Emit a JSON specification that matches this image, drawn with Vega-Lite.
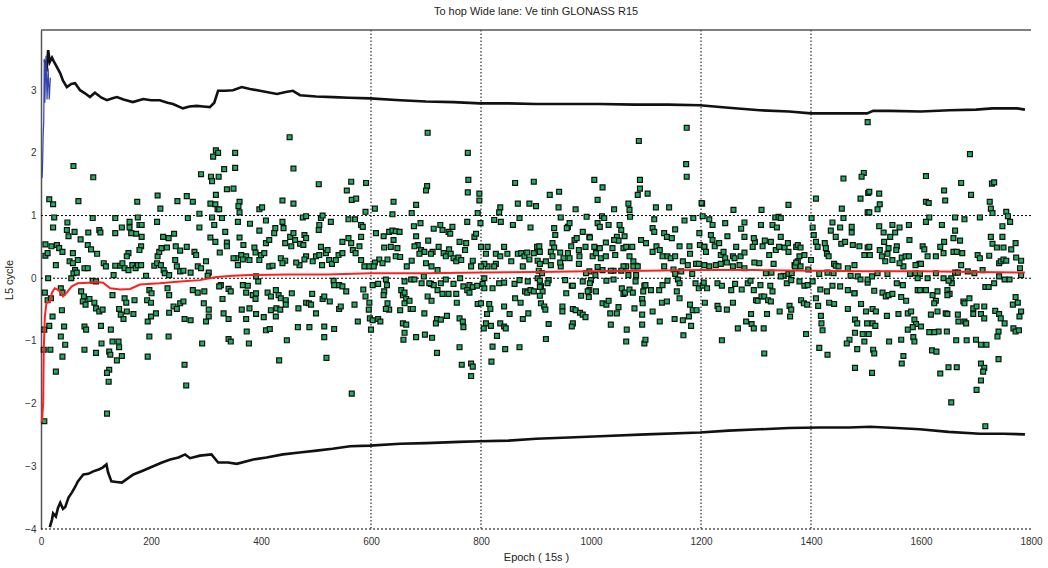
{
"$schema": "https://vega.github.io/schema/vega-lite/v6.json",
"width": 990, "height": 499,
"autosize": {"type": "none"},
"padding": {"left": 41, "top": 30, "right": 17, "bottom": 39},
"background": "white",
"config": {"view": {"stroke": null}, "font": "Liberation Sans"},
"title": {"text": "To hop Wide lane: Ve tinh GLONASS R15", "fontSize": 11, "fontWeight": "normal", "color": "#222", "offset": 12, "font": "Liberation Sans"},
"datasets": {
"gx": [{"e":600},{"e":800},{"e":1200},{"e":1400}],
"gy": [{"v":1},{"v":0},{"v":-4}],
"gt": [{"v":3.96}],
"blue": [{"e":2,"v":1.6},{"e":3,"v":1.85},{"e":4,"v":2.3},{"e":5,"v":2.5},{"e":6,"v":3.5},{"e":7,"v":2.8},{"e":9,"v":3.55},{"e":11,"v":2.85},{"e":13,"v":3.35},{"e":15,"v":2.85},{"e":17,"v":3.2}],
"mean": [{"e":1,"v":-2.3},{"e":2,"v":-2.25},{"e":4,"v":-1.98},{"e":5,"v":-1.14},{"e":7,"v":-0.61},{"e":10,"v":-0.39},{"e":16,"v":-0.37},{"e":20,"v":-0.23},{"e":25,"v":-0.16},{"e":30,"v":-0.18},{"e":35,"v":-0.21},{"e":40,"v":-0.29},{"e":47,"v":-0.23},{"e":56,"v":-0.13},{"e":67,"v":-0.08},{"e":86,"v":-0.07},{"e":101,"v":-0.06},{"e":113,"v":-0.07},{"e":126,"v":-0.16},{"e":144,"v":-0.18},{"e":162,"v":-0.17},{"e":180,"v":-0.1},{"e":216,"v":-0.08},{"e":253,"v":-0.05},{"e":289,"v":-0.03},{"e":319,"v":0.02},{"e":349,"v":0.04},{"e":380,"v":0.05},{"e":450,"v":0.06},{"e":520,"v":0.06},{"e":600,"v":0.08},{"e":700,"v":0.08},{"e":800,"v":0.09},{"e":900,"v":0.1},{"e":1000,"v":0.11},{"e":1100,"v":0.12},{"e":1200,"v":0.13},{"e":1300,"v":0.13},{"e":1400,"v":0.12},{"e":1500,"v":0.11},{"e":1600,"v":0.11},{"e":1700,"v":0.1},{"e":1789,"v":0.09}],
"up": [{"e":7,"v":3.48},{"e":10,"v":3.3},{"e":13,"v":3.64},{"e":16,"v":3.45},{"e":20,"v":3.52},{"e":25,"v":3.43},{"e":30,"v":3.35},{"e":35,"v":3.27},{"e":40,"v":3.15},{"e":47,"v":3.05},{"e":55,"v":3.1},{"e":62,"v":3.11},{"e":71,"v":3.0},{"e":80,"v":2.95},{"e":89,"v":2.89},{"e":98,"v":2.96},{"e":110,"v":2.88},{"e":120,"v":2.84},{"e":130,"v":2.87},{"e":138,"v":2.89},{"e":150,"v":2.85},{"e":167,"v":2.81},{"e":186,"v":2.86},{"e":200,"v":2.84},{"e":216,"v":2.84},{"e":230,"v":2.8},{"e":240,"v":2.78},{"e":258,"v":2.71},{"e":270,"v":2.74},{"e":283,"v":2.75},{"e":295,"v":2.74},{"e":307,"v":2.73},{"e":315,"v":2.8},{"e":322,"v":2.99},{"e":335,"v":2.99},{"e":349,"v":3.0},{"e":365,"v":3.05},{"e":380,"v":3.02},{"e":398,"v":2.99},{"e":429,"v":2.94},{"e":445,"v":2.97},{"e":458,"v":2.99},{"e":471,"v":2.92},{"e":500,"v":2.9},{"e":531,"v":2.89},{"e":560,"v":2.88},{"e":598,"v":2.87},{"e":653,"v":2.84},{"e":700,"v":2.82},{"e":750,"v":2.81},{"e":798,"v":2.79},{"e":850,"v":2.79},{"e":900,"v":2.78},{"e":960,"v":2.78},{"e":1016,"v":2.78},{"e":1080,"v":2.77},{"e":1140,"v":2.77},{"e":1198,"v":2.76},{"e":1250,"v":2.72},{"e":1307,"v":2.68},{"e":1360,"v":2.66},{"e":1400,"v":2.63},{"e":1435,"v":2.63},{"e":1470,"v":2.63},{"e":1502,"v":2.63},{"e":1513,"v":2.67},{"e":1543,"v":2.67},{"e":1600,"v":2.66},{"e":1652,"v":2.68},{"e":1700,"v":2.69},{"e":1730,"v":2.71},{"e":1775,"v":2.71},{"e":1789,"v":2.69}],
"lo": [{"e":16,"v":-3.97},{"e":20,"v":-3.85},{"e":22,"v":-3.75},{"e":27,"v":-3.8},{"e":31,"v":-3.66},{"e":35,"v":-3.58},{"e":40,"v":-3.68},{"e":44,"v":-3.65},{"e":50,"v":-3.5},{"e":56,"v":-3.42},{"e":62,"v":-3.33},{"e":67,"v":-3.24},{"e":77,"v":-3.13},{"e":86,"v":-3.12},{"e":95,"v":-3.08},{"e":105,"v":-3.05},{"e":112,"v":-3.02},{"e":119,"v":-2.97},{"e":122,"v":-3.1},{"e":128,"v":-3.24},{"e":137,"v":-3.25},{"e":147,"v":-3.26},{"e":168,"v":-3.13},{"e":185,"v":-3.07},{"e":204,"v":-3.0},{"e":220,"v":-2.94},{"e":235,"v":-2.89},{"e":250,"v":-2.86},{"e":262,"v":-2.81},{"e":271,"v":-2.87},{"e":289,"v":-2.83},{"e":310,"v":-2.81},{"e":322,"v":-2.94},{"e":340,"v":-2.94},{"e":356,"v":-2.96},{"e":386,"v":-2.89},{"e":410,"v":-2.86},{"e":440,"v":-2.81},{"e":470,"v":-2.78},{"e":501,"v":-2.75},{"e":530,"v":-2.72},{"e":562,"v":-2.68},{"e":598,"v":-2.67},{"e":653,"v":-2.64},{"e":700,"v":-2.63},{"e":760,"v":-2.61},{"e":798,"v":-2.6},{"e":850,"v":-2.59},{"e":900,"v":-2.56},{"e":960,"v":-2.54},{"e":1016,"v":-2.52},{"e":1100,"v":-2.49},{"e":1198,"v":-2.46},{"e":1250,"v":-2.43},{"e":1307,"v":-2.41},{"e":1360,"v":-2.39},{"e":1416,"v":-2.38},{"e":1470,"v":-2.38},{"e":1507,"v":-2.37},{"e":1555,"v":-2.39},{"e":1598,"v":-2.41},{"e":1650,"v":-2.45},{"e":1707,"v":-2.48},{"e":1750,"v":-2.48},{"e":1789,"v":-2.49}],
"pts": [
{"e":59,"v":1.79},{"e":95,"v":1.61},{"e":291,"v":1.66},{"e":15,"v":1.26},{"e":22,"v":1.18},{"e":68,"v":1.23},{"e":175,"v":1.22},{"e":212,"v":1.32},{"e":217,"v":1.11},{"e":248,"v":1.23},{"e":265,"v":1.31},{"e":276,"v":1.22},{"e":24,"v":0.97},{"e":48,"v":0.89},{"e":94,"v":0.96},{"e":135,"v":0.96},{"e":161,"v":0.9},{"e":176,"v":0.97},{"e":179,"v":0.85},{"e":183,"v":0.85},{"e":211,"v":0.9},{"e":267,"v":0.96},{"e":288,"v":1.03},{"e":22,"v":0.81},{"e":47,"v":0.77},{"e":61,"v":0.74},{"e":86,"v":0.73},{"e":106,"v":0.77},{"e":108,"v":0.73},{"e":147,"v":0.81},{"e":161,"v":0.81},{"e":164,"v":0.72},{"e":173,"v":0.71},{"e":135,"v":0.72},{"e":50,"v":0.67},{"e":72,"v":0.62},{"e":288,"v":0.81},{"e":183,"v":0.66},{"e":222,"v":0.66},{"e":232,"v":0.64},{"e":242,"v":0.71},{"e":8,"v":0.54},{"e":19,"v":0.51},{"e":29,"v":0.53},{"e":33,"v":0.48},{"e":39,"v":0.42},{"e":85,"v":0.53},{"e":91,"v":0.46},{"e":102,"v":0.39},{"e":8,"v":0.36},{"e":12,"v":0.4},{"e":58,"v":0.4},{"e":52,"v":0.27},{"e":159,"v":0.4},{"e":156,"v":0.35},{"e":182,"v":0.51},{"e":179,"v":0.45},{"e":212,"v":0.35},{"e":215,"v":0.42},{"e":219,"v":0.48},{"e":229,"v":0.49},{"e":245,"v":0.51},{"e":253,"v":0.44},{"e":265,"v":0.5},{"e":279,"v":0.42},{"e":282,"v":0.37},{"e":244,"v":0.29},{"e":27,"v":0.21},{"e":67,"v":0.29},{"e":58,"v":0.24},{"e":62,"v":0.13},{"e":59,"v":0.08},{"e":65,"v":0.09},{"e":79,"v":0.16},{"e":85,"v":0.16},{"e":114,"v":0.24},{"e":118,"v":0.19},{"e":135,"v":0.2},{"e":144,"v":0.2},{"e":148,"v":0.24},{"e":152,"v":0.16},{"e":159,"v":0.13},{"e":166,"v":0.21},{"e":172,"v":0.16},{"e":176,"v":0.21},{"e":182,"v":0.21},{"e":191,"v":0.04},{"e":206,"v":0.2},{"e":211,"v":0.24},{"e":218,"v":0.21},{"e":223,"v":0.13},{"e":225,"v":0.08},{"e":233,"v":0.05},{"e":247,"v":0.19},{"e":253,"v":0.11},{"e":259,"v":0.12},{"e":272,"v":0.09},{"e":285,"v":0.19},{"e":291,"v":0.16},{"e":132,"v":0.05},{"e":13,"v":0.0},{"e":55,"v":0.0},{"e":94,"v":-0.04},{"e":100,"v":-0.05},{"e":7,"v":-0.23},{"e":12,"v":-0.35},{"e":18,"v":-0.32},{"e":36,"v":-0.16},{"e":39,"v":-0.23},{"e":73,"v":-0.21},{"e":78,"v":-0.29},{"e":76,"v":-0.37},{"e":81,"v":-0.42},{"e":88,"v":-0.33},{"e":97,"v":-0.39},{"e":100,"v":-0.48},{"e":106,"v":-0.53},{"e":112,"v":-0.5},{"e":130,"v":-0.27},{"e":152,"v":-0.32},{"e":155,"v":-0.39},{"e":170,"v":-0.35},{"e":168,"v":-0.57},{"e":142,"v":-0.49},{"e":145,"v":-0.58},{"e":150,"v":-0.65},{"e":156,"v":-0.53},{"e":193,"v":-0.35},{"e":197,"v":-0.19},{"e":201,"v":-0.24},{"e":200,"v":-0.39},{"e":209,"v":-0.56},{"e":200,"v":-0.61},{"e":194,"v":-0.69},{"e":230,"v":-0.16},{"e":233,"v":-0.27},{"e":241,"v":-0.45},{"e":247,"v":-0.49},{"e":253,"v":-0.4},{"e":259,"v":-0.37},{"e":233,"v":-0.55},{"e":261,"v":-0.65},{"e":272,"v":-0.67},{"e":276,"v":-0.19},{"e":285,"v":-0.23},{"e":297,"v":-0.21},{"e":296,"v":-0.4},{"e":21,"v":-0.61},{"e":15,"v":-0.76},{"e":38,"v":-0.51},{"e":42,"v":-0.77},{"e":36,"v":-0.93},{"e":44,"v":-1.06},{"e":39,"v":-1.25},{"e":27,"v":-1.49},{"e":17,"v":-1.14},{"e":79,"v":-0.77},{"e":82,"v":-0.82},{"e":109,"v":-0.76},{"e":110,"v":-1.04},{"e":127,"v":-0.82},{"e":130,"v":-1.01},{"e":141,"v":-1.01},{"e":142,"v":-1.1},{"e":147,"v":-1.24},{"e":79,"v":-1.14},{"e":100,"v":-1.19},{"e":124,"v":-1.17},{"e":126,"v":-1.22},{"e":138,"v":-1.31},{"e":124,"v":-1.46},{"e":120,"v":-1.51},{"e":123,"v":-1.65},{"e":120,"v":-2.16},{"e":194,"v":-1.25},{"e":197,"v":-0.93},{"e":232,"v":-0.93},{"e":261,"v":-1.38},{"e":264,"v":-1.71},{"e":293,"v":-1.04},{"e":6,"v":-2.28},{"e":6,"v":-0.82},{"e":5,"v":-1.14},
{"e":452,"v":2.25},{"e":318,"v":2.04},{"e":313,"v":1.94},{"e":322,"v":2.0},{"e":353,"v":2.0},{"e":353,"v":1.76},{"e":333,"v":1.74},{"e":459,"v":1.75},{"e":309,"v":1.62},{"e":311,"v":1.55},{"e":323,"v":1.62},{"e":505,"v":1.5},{"e":564,"v":1.54},{"e":591,"v":1.52},{"e":338,"v":1.42},{"e":350,"v":1.43},{"e":318,"v":1.33},{"e":308,"v":1.19},{"e":317,"v":1.18},{"e":321,"v":1.1},{"e":324,"v":1.1},{"e":361,"v":1.22},{"e":359,"v":1.15},{"e":361,"v":1.05},{"e":397,"v":1.1},{"e":402,"v":1.13},{"e":439,"v":1.24},{"e":459,"v":1.19},{"e":556,"v":1.4},{"e":565,"v":1.25},{"e":573,"v":1.27},{"e":590,"v":1.06},{"e":311,"v":0.97},{"e":329,"v":0.96},{"e":358,"v":0.9},{"e":380,"v":0.87},{"e":409,"v":0.92},{"e":439,"v":0.9},{"e":476,"v":0.97},{"e":482,"v":0.99},{"e":509,"v":0.96},{"e":527,"v":0.9},{"e":512,"v":1.0},{"e":506,"v":0.85},{"e":505,"v":0.77},{"e":559,"v":0.94},{"e":571,"v":0.94},{"e":582,"v":0.85},{"e":585,"v":0.82},{"e":315,"v":0.85},{"e":335,"v":0.74},{"e":308,"v":0.65},{"e":317,"v":0.58},{"e":338,"v":0.57},{"e":325,"v":0.41},{"e":338,"v":0.51},{"e":361,"v":0.65},{"e":368,"v":0.53},{"e":364,"v":0.37},{"e":373,"v":0.35},{"e":397,"v":0.76},{"e":409,"v":0.56},{"e":415,"v":0.61},{"e":426,"v":0.8},{"e":424,"v":0.72},{"e":441,"v":0.8},{"e":444,"v":0.56},{"e":453,"v":0.66},{"e":455,"v":0.51},{"e":459,"v":0.72},{"e":462,"v":0.61},{"e":471,"v":0.55},{"e":477,"v":0.53},{"e":479,"v":0.69},{"e":482,"v":0.64},{"e":388,"v":0.49},{"e":390,"v":0.41},{"e":400,"v":0.37},{"e":406,"v":0.4},{"e":397,"v":0.29},{"e":379,"v":0.29},{"e":367,"v":0.3},{"e":355,"v":0.32},{"e":358,"v":0.21},{"e":350,"v":0.32},{"e":415,"v":0.19},{"e":421,"v":0.2},{"e":436,"v":0.32},{"e":444,"v":0.28},{"e":439,"v":0.24},{"e":470,"v":0.21},{"e":464,"v":0.25},{"e":482,"v":0.35},{"e":479,"v":0.3},{"e":494,"v":0.27},{"e":500,"v":0.35},{"e":506,"v":0.37},{"e":509,"v":0.5},{"e":511,"v":0.21},{"e":518,"v":0.4},{"e":521,"v":0.45},{"e":524,"v":0.29},{"e":529,"v":0.23},{"e":536,"v":0.29},{"e":541,"v":0.37},{"e":548,"v":0.58},{"e":548,"v":0.4},{"e":559,"v":0.64},{"e":564,"v":0.56},{"e":567,"v":0.45},{"e":572,"v":0.4},{"e":579,"v":0.51},{"e":582,"v":0.66},{"e":588,"v":0.19},{"e":597,"v":0.19},{"e":582,"v":0.29},{"e":305,"v":0.09},{"e":303,"v":0.04},{"e":300,"v":0.27},{"e":327,"v":-0.11},{"e":324,"v":-0.13},{"e":341,"v":-0.17},{"e":345,"v":-0.21},{"e":367,"v":-0.11},{"e":376,"v":-0.12},{"e":395,"v":-0.05},{"e":391,"v":0.03},{"e":330,"v":-0.33},{"e":332,"v":-0.56},{"e":341,"v":-0.65},{"e":305,"v":-0.5},{"e":305,"v":-0.61},{"e":300,"v":-0.69},{"e":373,"v":-0.23},{"e":385,"v":-0.27},{"e":390,"v":-0.33},{"e":391,"v":-0.24},{"e":379,"v":-0.48},{"e":365,"v":-0.5},{"e":373,"v":-0.65},{"e":391,"v":-0.57},{"e":405,"v":-0.62},{"e":412,"v":-0.23},{"e":418,"v":-0.29},{"e":427,"v":-0.19},{"e":432,"v":-0.27},{"e":436,"v":-0.32},{"e":445,"v":-0.35},{"e":456,"v":-0.24},{"e":428,"v":-0.48},{"e":418,"v":-0.51},{"e":427,"v":-0.61},{"e":435,"v":-0.5},{"e":445,"v":-0.42},{"e":468,"v":-0.48},{"e":482,"v":-0.39},{"e":487,"v":-0.4},{"e":491,"v":-0.42},{"e":493,"v":-0.25},{"e":500,"v":-0.56},{"e":512,"v":-0.33},{"e":515,"v":-0.29},{"e":525,"v":-0.37},{"e":532,"v":-0.04},{"e":533,"v":-0.11},{"e":542,"v":-0.11},{"e":548,"v":-0.13},{"e":542,"v":-0.49},{"e":545,"v":-0.45},{"e":555,"v":-0.21},{"e":570,"v":-0.42},{"e":576,"v":-0.69},{"e":586,"v":-0.18},{"e":590,"v":-0.29},{"e":596,"v":-0.5},{"e":598,"v":-0.64},{"e":600,"v":-0.82},{"e":597,"v":-0.39},{"e":374,"v":-0.85},{"e":341,"v":-0.97},{"e":345,"v":-1.01},{"e":378,"v":-1.04},{"e":409,"v":-0.83},{"e":416,"v":-0.81},{"e":447,"v":-0.99},{"e":467,"v":-0.78},{"e":488,"v":-0.78},{"e":515,"v":-0.77},{"e":515,"v":-0.94},{"e":533,"v":-0.81},{"e":433,"v":-1.31},{"e":519,"v":-1.27},{"e":565,"v":-1.84},
{"e":703,"v":2.32},{"e":776,"v":2.0},{"e":777,"v":1.57},{"e":702,"v":1.47},{"e":700,"v":1.4},{"e":776,"v":1.37},{"e":862,"v":1.52},{"e":896,"v":1.54},{"e":641,"v":1.22},{"e":682,"v":1.17},{"e":607,"v":1.11},{"e":639,"v":1.02},{"e":674,"v":1.04},{"e":797,"v":1.35},{"e":797,"v":1.24},{"e":794,"v":1.04},{"e":799,"v":0.88},{"e":835,"v":1.13},{"e":833,"v":1.05},{"e":867,"v":1.19},{"e":888,"v":1.19},{"e":900,"v":1.15},{"e":870,"v":0.96},{"e":824,"v":0.93},{"e":836,"v":0.9},{"e":858,"v":0.85},{"e":890,"v":0.81},{"e":775,"v":0.9},{"e":690,"v":0.88},{"e":678,"v":0.83},{"e":714,"v":0.79},{"e":726,"v":0.85},{"e":730,"v":0.77},{"e":748,"v":0.82},{"e":741,"v":0.74},{"e":744,"v":0.71},{"e":609,"v":0.72},{"e":623,"v":0.67},{"e":633,"v":0.74},{"e":639,"v":0.76},{"e":645,"v":0.75},{"e":652,"v":0.74},{"e":641,"v":0.61},{"e":624,"v":0.49},{"e":636,"v":0.5},{"e":648,"v":0.48},{"e":645,"v":0.35},{"e":630,"v":0.3},{"e":653,"v":0.34},{"e":615,"v":0.3},{"e":621,"v":0.24},{"e":607,"v":0.25},{"e":605,"v":0.19},{"e":682,"v":0.67},{"e":685,"v":0.53},{"e":679,"v":0.51},{"e":691,"v":0.45},{"e":697,"v":0.42},{"e":688,"v":0.39},{"e":704,"v":0.6},{"e":712,"v":0.42},{"e":709,"v":0.39},{"e":723,"v":0.5},{"e":732,"v":0.4},{"e":736,"v":0.35},{"e":742,"v":0.46},{"e":745,"v":0.39},{"e":750,"v":0.32},{"e":755,"v":0.27},{"e":759,"v":0.33},{"e":764,"v":0.29},{"e":773,"v":0.56},{"e":771,"v":0.45},{"e":761,"v":0.58},{"e":788,"v":0.66},{"e":791,"v":0.71},{"e":674,"v":0.28},{"e":700,"v":0.24},{"e":710,"v":0.19},{"e":721,"v":0.13},{"e":665,"v":0.19},{"e":800,"v":0.5},{"e":809,"v":0.39},{"e":812,"v":0.5},{"e":827,"v":0.39},{"e":835,"v":0.35},{"e":842,"v":0.5},{"e":848,"v":0.39},{"e":855,"v":0.27},{"e":867,"v":0.39},{"e":873,"v":0.4},{"e":879,"v":0.35},{"e":884,"v":0.41},{"e":888,"v":0.3},{"e":896,"v":0.4},{"e":902,"v":0.5},{"e":903,"v":0.28},{"e":876,"v":0.19},{"e":827,"v":0.23},{"e":824,"v":0.19},{"e":812,"v":0.19},{"e":806,"v":0.23},{"e":800,"v":0.19},{"e":785,"v":0.28},{"e":782,"v":0.19},{"e":603,"v":-0.11},{"e":613,"v":-0.09},{"e":627,"v":-0.02},{"e":629,"v":-0.11},{"e":661,"v":-0.05},{"e":673,"v":-0.02},{"e":679,"v":-0.02},{"e":696,"v":0.03},{"e":709,"v":-0.09},{"e":714,"v":-0.11},{"e":727,"v":-0.08},{"e":736,"v":-0.02},{"e":750,"v":-0.09},{"e":762,"v":0.0},{"e":768,"v":-0.13},{"e":779,"v":-0.11},{"e":785,"v":-0.14},{"e":793,"v":-0.12},{"e":803,"v":-0.09},{"e":806,"v":0.0},{"e":821,"v":-0.16},{"e":833,"v":-0.08},{"e":842,"v":-0.07},{"e":861,"v":-0.09},{"e":870,"v":-0.03},{"e":885,"v":-0.05},{"e":903,"v":0.0},{"e":624,"v":-0.21},{"e":623,"v":-0.27},{"e":630,"v":-0.4},{"e":633,"v":-0.5},{"e":627,"v":-0.49},{"e":613,"v":-0.65},{"e":617,"v":-0.69},{"e":603,"v":-0.67},{"e":655,"v":-0.19},{"e":658,"v":-0.27},{"e":661,"v":-0.23},{"e":664,"v":-0.33},{"e":661,"v":-0.4},{"e":670,"v":-0.36},{"e":653,"v":-0.51},{"e":658,"v":-0.72},{"e":664,"v":-0.74},{"e":661,"v":-0.87},{"e":672,"v":-0.49},{"e":676,"v":-0.49},{"e":659,"v":-0.98},{"e":682,"v":-0.94},{"e":692,"v":-0.08},{"e":706,"v":-0.08},{"e":721,"v":-0.19},{"e":730,"v":-0.25},{"e":741,"v":-0.25},{"e":755,"v":-0.25},{"e":756,"v":-0.39},{"e":697,"v":-0.56},{"e":703,"v":-0.29},{"e":710,"v":-0.36},{"e":720,"v":-0.65},{"e":718,"v":-0.72},{"e":727,"v":-0.66},{"e":738,"v":-0.6},{"e":761,"v":-0.64},{"e":767,"v":-0.69},{"e":768,"v":-0.78},{"e":698,"v":-0.9},{"e":711,"v":-0.95},{"e":720,"v":-1.19},{"e":761,"v":-1.1},{"e":765,"v":-1.38},{"e":782,"v":-1.36},{"e":785,"v":-1.41},{"e":782,"v":-1.56},{"e":775,"v":-0.19},{"e":779,"v":-0.23},{"e":794,"v":-0.41},{"e":800,"v":-0.4},{"e":806,"v":-0.16},{"e":815,"v":-0.41},{"e":817,"v":-0.49},{"e":811,"v":-0.57},{"e":809,"v":-0.72},{"e":805,"v":-0.8},{"e":818,"v":-0.76},{"e":829,"v":-0.92},{"e":835,"v":-0.72},{"e":842,"v":-0.77},{"e":845,"v":-0.8},{"e":852,"v":-0.57},{"e":842,"v":-0.45},{"e":862,"v":-0.32},{"e":872,"v":-0.39},{"e":880,"v":-0.21},{"e":884,"v":-0.23},{"e":890,"v":-0.19},{"e":896,"v":-0.21},{"e":886,"v":-0.56},{"e":876,"v":-0.65},{"e":870,"v":-1.1},{"e":844,"v":-1.13},{"e":821,"v":-1.09},{"e":819,"v":-1.33},
{"e":1174,"v":2.4},{"e":1087,"v":2.19},{"e":1173,"v":1.82},{"e":1174,"v":1.62},{"e":1006,"v":1.57},{"e":1021,"v":1.45},{"e":1089,"v":1.57},{"e":1089,"v":1.43},{"e":1085,"v":1.33},{"e":1103,"v":1.35},{"e":925,"v":1.33},{"e":942,"v":1.38},{"e":1012,"v":1.25},{"e":1068,"v":1.19},{"e":1070,"v":1.09},{"e":1042,"v":1.1},{"e":972,"v":1.1},{"e":941,"v":1.13},{"e":1118,"v":1.13},{"e":1142,"v":1.13},{"e":945,"v":0.97},{"e":992,"v":0.98},{"e":1020,"v":0.99},{"e":1024,"v":0.96},{"e":1071,"v":0.98},{"e":1115,"v":0.94},{"e":1170,"v":0.92},{"e":1186,"v":0.96},{"e":1202,"v":1.19},{"e":1203,"v":0.99},{"e":933,"v":0.8},{"e":935,"v":0.69},{"e":958,"v":0.82},{"e":956,"v":0.8},{"e":961,"v":0.88},{"e":985,"v":0.74},{"e":997,"v":0.66},{"e":1012,"v":0.88},{"e":1016,"v":0.82},{"e":1032,"v":0.85},{"e":1052,"v":0.85},{"e":1055,"v":0.77},{"e":1061,"v":0.67},{"e":1047,"v":0.66},{"e":1050,"v":0.6},{"e":1042,"v":0.61},{"e":1112,"v":0.8},{"e":1115,"v":0.74},{"e":1133,"v":0.72},{"e":1138,"v":0.66},{"e":1147,"v":0.64},{"e":1153,"v":0.78},{"e":1197,"v":0.72},{"e":1198,"v":0.53},{"e":1179,"v":0.51},{"e":906,"v":0.51},{"e":907,"v":0.42},{"e":930,"v":0.56},{"e":933,"v":0.49},{"e":927,"v":0.42},{"e":930,"v":0.35},{"e":944,"v":0.41},{"e":950,"v":0.32},{"e":958,"v":0.4},{"e":961,"v":0.32},{"e":964,"v":0.51},{"e":970,"v":0.61},{"e":974,"v":0.64},{"e":978,"v":0.45},{"e":979,"v":0.35},{"e":990,"v":0.5},{"e":998,"v":0.65},{"e":1006,"v":0.5},{"e":1003,"v":0.35},{"e":1009,"v":0.4},{"e":1016,"v":0.48},{"e":1018,"v":0.32},{"e":1027,"v":0.57},{"e":1027,"v":0.35},{"e":1039,"v":0.48},{"e":1044,"v":0.37},{"e":1059,"v":0.48},{"e":1064,"v":0.5},{"e":1075,"v":0.5},{"e":1070,"v":0.35},{"e":1077,"v":0.27},{"e":1082,"v":0.2},{"e":1077,"v":0.19},{"e":1085,"v":0.19},{"e":1091,"v":0.61},{"e":1100,"v":0.56},{"e":1112,"v":0.42},{"e":1119,"v":0.51},{"e":1125,"v":0.45},{"e":1130,"v":0.35},{"e":1133,"v":0.19},{"e":1139,"v":0.35},{"e":1145,"v":0.32},{"e":1153,"v":0.35},{"e":1161,"v":0.51},{"e":1167,"v":0.27},{"e":1176,"v":0.21},{"e":1180,"v":0.39},{"e":1191,"v":0.23},{"e":1196,"v":0.23},{"e":1206,"v":0.5},{"e":1064,"v":0.19},{"e":1059,"v":0.19},{"e":1068,"v":0.05},{"e":1055,"v":0.12},{"e":1041,"v":0.12},{"e":1036,"v":0.12},{"e":1021,"v":0.13},{"e":1012,"v":0.18},{"e":1008,"v":0.05},{"e":997,"v":0.11},{"e":991,"v":0.08},{"e":978,"v":0.23},{"e":945,"v":0.19},{"e":944,"v":0.25},{"e":927,"v":0.21},{"e":918,"v":0.27},{"e":907,"v":0.23},{"e":905,"v":0.12},{"e":911,"v":0.08},{"e":1150,"v":0.14},{"e":1153,"v":0.07},{"e":1164,"v":0.11},{"e":1184,"v":0.07},{"e":907,"v":-0.04},{"e":909,"v":-0.13},{"e":912,"v":-0.21},{"e":923,"v":-0.03},{"e":921,"v":-0.08},{"e":953,"v":-0.03},{"e":965,"v":-0.12},{"e":985,"v":-0.05},{"e":1000,"v":-0.03},{"e":997,"v":-0.19},{"e":998,"v":-0.08},{"e":1028,"v":-0.04},{"e":1041,"v":-0.02},{"e":1056,"v":-0.16},{"e":1082,"v":0.05},{"e":1081,"v":-0.05},{"e":1097,"v":-0.12},{"e":1109,"v":-0.19},{"e":1124,"v":-0.19},{"e":1130,"v":-0.11},{"e":1139,"v":-0.04},{"e":1158,"v":-0.02},{"e":1161,"v":-0.08},{"e":1190,"v":-0.08},{"e":1196,"v":-0.16},{"e":1203,"v":-0.12},{"e":907,"v":-0.28},{"e":909,"v":-0.4},{"e":915,"v":-0.45},{"e":917,"v":-0.5},{"e":955,"v":-0.24},{"e":948,"v":-0.45},{"e":948,"v":-0.53},{"e":967,"v":-0.12},{"e":967,"v":-0.49},{"e":972,"v":-0.51},{"e":980,"v":-0.55},{"e":985,"v":-0.58},{"e":990,"v":-0.62},{"e":982,"v":-0.28},{"e":994,"v":-0.21},{"e":996,"v":-0.3},{"e":1009,"v":-0.21},{"e":1021,"v":-0.4},{"e":1028,"v":-0.42},{"e":1032,"v":-0.36},{"e":1035,"v":-0.56},{"e":1047,"v":-0.56},{"e":1050,"v":-0.46},{"e":1059,"v":-0.25},{"e":1062,"v":-0.23},{"e":1070,"v":-0.18},{"e":1076,"v":-0.23},{"e":1079,"v":-0.48},{"e":1093,"v":-0.33},{"e":1094,"v":-0.4},{"e":1093,"v":-0.58},{"e":1095,"v":-0.21},{"e":1099,"v":-0.11},{"e":1112,"v":-0.53},{"e":1129,"v":-0.39},{"e":1138,"v":-0.37},{"e":1156,"v":-0.21},{"e":1161,"v":-0.32},{"e":1180,"v":-0.42},{"e":1185,"v":-0.51},{"e":1192,"v":-0.51},{"e":1178,"v":-0.61},{"e":1167,"v":-0.67},{"e":1152,"v":-0.65},{"e":1125,"v":-0.69},{"e":1093,"v":-0.74},{"e":1065,"v":-0.82},{"e":1064,"v":-1.01},{"e":1036,"v":-0.74},{"e":967,"v":-0.72},{"e":965,"v":-0.77},{"e":923,"v":-0.73},{"e":918,"v":-0.97},{"e":1097,"v":-1.04},{"e":1099,"v":-0.98},{"e":1168,"v":-0.91},{"e":1182,"v":-0.76},{"e":907,"v":-0.14},
{"e":1503,"v":2.49},{"e":1496,"v":1.68},{"e":1492,"v":1.62},{"e":1459,"v":1.59},{"e":1409,"v":1.27},{"e":1490,"v":1.27},{"e":1504,"v":1.36},{"e":1359,"v":1.17},{"e":1310,"v":1.09},{"e":1259,"v":1.09},{"e":1201,"v":1.2},{"e":1456,"v":1.11},{"e":1503,"v":1.05},{"e":1215,"v":0.94},{"e":1221,"v":0.85},{"e":1244,"v":0.88},{"e":1279,"v":0.89},{"e":1273,"v":0.79},{"e":1309,"v":0.85},{"e":1330,"v":0.85},{"e":1335,"v":0.97},{"e":1341,"v":0.98},{"e":1345,"v":0.96},{"e":1338,"v":0.81},{"e":1401,"v":0.96},{"e":1403,"v":0.81},{"e":1405,"v":0.69},{"e":1439,"v":0.89},{"e":1453,"v":0.81},{"e":1459,"v":0.96},{"e":1474,"v":0.82},{"e":1474,"v":0.73},{"e":1436,"v":0.76},{"e":1445,"v":0.66},{"e":1218,"v":0.69},{"e":1221,"v":0.61},{"e":1225,"v":0.51},{"e":1233,"v":0.56},{"e":1248,"v":0.67},{"e":1206,"v":0.5},{"e":1209,"v":0.42},{"e":1236,"v":0.37},{"e":1241,"v":0.42},{"e":1244,"v":0.32},{"e":1258,"v":0.35},{"e":1264,"v":0.5},{"e":1261,"v":0.32},{"e":1272,"v":0.35},{"e":1279,"v":0.66},{"e":1279,"v":0.41},{"e":1294,"v":0.5},{"e":1298,"v":0.58},{"e":1296,"v":0.64},{"e":1312,"v":0.51},{"e":1316,"v":0.6},{"e":1324,"v":0.37},{"e":1327,"v":0.58},{"e":1336,"v":0.45},{"e":1345,"v":0.66},{"e":1342,"v":0.5},{"e":1352,"v":0.49},{"e":1358,"v":0.56},{"e":1359,"v":0.42},{"e":1373,"v":0.5},{"e":1376,"v":0.53},{"e":1381,"v":0.49},{"e":1379,"v":0.35},{"e":1376,"v":0.27},{"e":1370,"v":0.21},{"e":1371,"v":0.19},{"e":1373,"v":0.25},{"e":1388,"v":0.37},{"e":1400,"v":0.29},{"e":1409,"v":0.58},{"e":1412,"v":0.5},{"e":1425,"v":0.56},{"e":1427,"v":0.48},{"e":1429,"v":0.39},{"e":1432,"v":0.35},{"e":1442,"v":0.23},{"e":1445,"v":0.2},{"e":1455,"v":0.55},{"e":1462,"v":0.58},{"e":1476,"v":0.53},{"e":1479,"v":0.21},{"e":1488,"v":0.51},{"e":1497,"v":0.37},{"e":1503,"v":0.49},{"e":1206,"v":0.21},{"e":1215,"v":0.19},{"e":1227,"v":0.21},{"e":1236,"v":0.23},{"e":1247,"v":0.25},{"e":1258,"v":0.19},{"e":1270,"v":0.21},{"e":1279,"v":0.16},{"e":1297,"v":0.25},{"e":1306,"v":0.24},{"e":1318,"v":0.08},{"e":1328,"v":0.09},{"e":1332,"v":0.23},{"e":1350,"v":0.04},{"e":1359,"v":0.07},{"e":1365,"v":0.08},{"e":1381,"v":0.19},{"e":1395,"v":0.14},{"e":1415,"v":0.07},{"e":1430,"v":0.09},{"e":1441,"v":0.08},{"e":1450,"v":0.19},{"e":1467,"v":0.16},{"e":1472,"v":0.04},{"e":1485,"v":0.03},{"e":1205,"v":-0.07},{"e":1211,"v":-0.16},{"e":1230,"v":-0.08},{"e":1238,"v":-0.12},{"e":1255,"v":-0.19},{"e":1262,"v":-0.09},{"e":1274,"v":-0.18},{"e":1285,"v":-0.08},{"e":1290,"v":-0.04},{"e":1296,"v":-0.19},{"e":1308,"v":-0.11},{"e":1326,"v":-0.12},{"e":1330,"v":-0.21},{"e":1345,"v":0.03},{"e":1356,"v":-0.08},{"e":1364,"v":-0.03},{"e":1379,"v":-0.05},{"e":1388,"v":-0.12},{"e":1394,"v":-0.11},{"e":1403,"v":-0.05},{"e":1417,"v":-0.18},{"e":1429,"v":-0.21},{"e":1439,"v":-0.12},{"e":1453,"v":-0.13},{"e":1467,"v":-0.19},{"e":1479,"v":-0.24},{"e":1490,"v":-0.02},{"e":1503,"v":-0.07},{"e":1207,"v":-0.39},{"e":1230,"v":-0.44},{"e":1232,"v":-0.49},{"e":1247,"v":-0.5},{"e":1258,"v":-0.39},{"e":1267,"v":-0.8},{"e":1282,"v":-0.69},{"e":1291,"v":-0.57},{"e":1292,"v":-0.73},{"e":1296,"v":-0.8},{"e":1300,"v":-0.35},{"e":1303,"v":-0.36},{"e":1310,"v":-0.29},{"e":1315,"v":-0.29},{"e":1322,"v":-0.35},{"e":1327,"v":-0.37},{"e":1314,"v":-0.8},{"e":1320,"v":-0.57},{"e":1343,"v":-0.53},{"e":1361,"v":-0.44},{"e":1364,"v":-0.5},{"e":1362,"v":-0.61},{"e":1382,"v":-0.35},{"e":1387,"v":-0.4},{"e":1393,"v":-0.42},{"e":1391,"v":-0.89},{"e":1409,"v":-0.32},{"e":1413,"v":-0.44},{"e":1418,"v":-0.6},{"e":1419,"v":-0.72},{"e":1421,"v":-0.83},{"e":1415,"v":-1.11},{"e":1430,"v":-1.22},{"e":1433,"v":-0.39},{"e":1442,"v":-0.41},{"e":1467,"v":-0.49},{"e":1479,"v":-0.24},{"e":1491,"v":-0.41},{"e":1500,"v":-0.53},{"e":1480,"v":-0.66},{"e":1484,"v":-0.72},{"e":1480,"v":-0.87},{"e":1494,"v":-0.89},{"e":1497,"v":-1.01},{"e":1470,"v":-0.98},{"e":1465,"v":-1.04},{"e":1484,"v":-1.13},{"e":1480,"v":-1.43},{"e":1238,"v":-0.99},{"e":1315,"v":-1.2},{"e":1502,"v":-0.72},
{"e":1689,"v":1.98},{"e":1609,"v":1.63},{"e":1673,"v":1.52},{"e":1729,"v":1.51},{"e":1733,"v":1.53},{"e":1691,"v":1.33},{"e":1642,"v":1.4},{"e":1524,"v":1.35},{"e":1506,"v":1.38},{"e":1609,"v":1.22},{"e":1614,"v":1.2},{"e":1644,"v":1.24},{"e":1725,"v":1.22},{"e":1727,"v":1.11},{"e":1730,"v":1.04},{"e":1525,"v":1.18},{"e":1521,"v":1.1},{"e":1506,"v":1.05},{"e":1615,"v":0.97},{"e":1609,"v":0.9},{"e":1662,"v":0.97},{"e":1679,"v":0.94},{"e":1707,"v":0.97},{"e":1755,"v":1.06},{"e":1758,"v":0.99},{"e":1762,"v":0.9},{"e":1524,"v":0.83},{"e":1548,"v":0.85},{"e":1561,"v":0.81},{"e":1578,"v":0.85},{"e":1638,"v":0.85},{"e":1662,"v":0.76},{"e":1748,"v":0.83},{"e":1748,"v":0.66},{"e":1727,"v":0.66},{"e":1730,"v":0.55},{"e":1738,"v":0.49},{"e":1750,"v":0.49},{"e":1772,"v":0.56},{"e":1764,"v":0.46},{"e":1532,"v":0.73},{"e":1544,"v":0.66},{"e":1553,"v":0.73},{"e":1579,"v":0.61},{"e":1659,"v":0.64},{"e":1671,"v":0.6},{"e":1642,"v":0.58},{"e":1506,"v":0.5},{"e":1507,"v":0.37},{"e":1525,"v":0.45},{"e":1529,"v":0.35},{"e":1533,"v":0.58},{"e":1539,"v":0.39},{"e":1541,"v":0.48},{"e":1556,"v":0.51},{"e":1555,"v":0.45},{"e":1565,"v":0.33},{"e":1572,"v":0.35},{"e":1578,"v":0.35},{"e":1603,"v":0.51},{"e":1606,"v":0.46},{"e":1612,"v":0.35},{"e":1627,"v":0.35},{"e":1635,"v":0.5},{"e":1641,"v":0.4},{"e":1659,"v":0.42},{"e":1665,"v":0.42},{"e":1675,"v":0.4},{"e":1703,"v":0.37},{"e":1707,"v":0.32},{"e":1724,"v":0.36},{"e":1742,"v":0.24},{"e":1745,"v":0.27},{"e":1750,"v":0.3},{"e":1755,"v":0.28},{"e":1773,"v":0.33},{"e":1782,"v":0.28},{"e":1780,"v":0.16},{"e":1673,"v":0.21},{"e":1662,"v":0.09},{"e":1597,"v":0.23},{"e":1600,"v":0.23},{"e":1590,"v":0.21},{"e":1568,"v":0.19},{"e":1561,"v":0.24},{"e":1548,"v":0.29},{"e":1535,"v":0.27},{"e":1503,"v":-0.02},{"e":1511,"v":0.03},{"e":1521,"v":0.08},{"e":1539,"v":0.07},{"e":1580,"v":0.07},{"e":1590,"v":0.08},{"e":1598,"v":0.07},{"e":1627,"v":0.08},{"e":1641,"v":0.0},{"e":1667,"v":0.09},{"e":1685,"v":0.11},{"e":1697,"v":0.08},{"e":1712,"v":0.13},{"e":1717,"v":-0.14},{"e":1723,"v":-0.14},{"e":1733,"v":-0.08},{"e":1742,"v":0.03},{"e":1752,"v":-0.02},{"e":1761,"v":-0.02},{"e":1782,"v":0.05},{"e":1655,"v":0.0},{"e":1656,"v":-0.08},{"e":1650,"v":-0.04},{"e":1612,"v":0.0},{"e":1594,"v":0.0},{"e":1567,"v":-0.11},{"e":1556,"v":-0.08},{"e":1515,"v":-0.2},{"e":1530,"v":-0.23},{"e":1536,"v":-0.29},{"e":1541,"v":-0.27},{"e":1548,"v":-0.25},{"e":1512,"v":-0.49},{"e":1518,"v":-0.53},{"e":1538,"v":-0.6},{"e":1512,"v":-0.72},{"e":1517,"v":-0.76},{"e":1505,"v":-0.89},{"e":1559,"v":-0.57},{"e":1564,"v":-0.3},{"e":1573,"v":-0.36},{"e":1576,"v":-0.56},{"e":1582,"v":-0.53},{"e":1588,"v":-0.66},{"e":1591,"v":-0.73},{"e":1585,"v":-0.78},{"e":1576,"v":-0.82},{"e":1586,"v":-0.94},{"e":1588,"v":-1.01},{"e":1600,"v":-0.77},{"e":1594,"v":-0.19},{"e":1598,"v":-0.19},{"e":1609,"v":-0.19},{"e":1621,"v":-0.27},{"e":1630,"v":-0.21},{"e":1627,"v":-0.36},{"e":1624,"v":-0.4},{"e":1618,"v":-0.58},{"e":1630,"v":-0.53},{"e":1648,"v":-0.19},{"e":1652,"v":-0.25},{"e":1648,"v":-0.27},{"e":1645,"v":-0.56},{"e":1648,"v":-0.57},{"e":1667,"v":-0.58},{"e":1668,"v":-0.69},{"e":1679,"v":-0.69},{"e":1682,"v":-0.72},{"e":1677,"v":-0.37},{"e":1679,"v":-0.4},{"e":1688,"v":-0.32},{"e":1695,"v":-0.48},{"e":1695,"v":-0.57},{"e":1701,"v":-0.45},{"e":1709,"v":-0.57},{"e":1715,"v":-0.64},{"e":1715,"v":-0.45},{"e":1735,"v":-0.52},{"e":1742,"v":-0.57},{"e":1745,"v":-0.64},{"e":1752,"v":-0.72},{"e":1767,"v":-0.42},{"e":1772,"v":-0.3},{"e":1776,"v":-0.39},{"e":1782,"v":-0.53},{"e":1779,"v":-0.61},{"e":1768,"v":-0.8},{"e":1772,"v":-0.85},{"e":1778,"v":-0.83},{"e":1741,"v":-0.85},{"e":1739,"v":-0.93},{"e":1719,"v":-1.06},{"e":1709,"v":-1.06},{"e":1700,"v":-0.98},{"e":1683,"v":-0.99},{"e":1664,"v":-0.99},{"e":1647,"v":-0.85},{"e":1632,"v":-0.85},{"e":1624,"v":-0.86},{"e":1615,"v":-0.86},{"e":1564,"v":-0.98},{"e":1542,"v":-1.01},{"e":1513,"v":-1.14},{"e":1515,"v":-1.2},{"e":1568,"v":-1.24},{"e":1565,"v":-1.36},{"e":1620,"v":-1.15},{"e":1628,"v":-1.17},{"e":1635,"v":-1.52},{"e":1650,"v":-1.42},{"e":1665,"v":-1.42},{"e":1741,"v":-1.29},{"e":1709,"v":-1.36},{"e":1715,"v":-1.43},{"e":1713,"v":-1.49},{"e":1709,"v":-1.63},{"e":1701,"v":-1.78},{"e":1511,"v":-1.51},{"e":1655,"v":-1.98},{"e":1717,"v":-2.36}
]
},
"encoding": {
"x": {"field": "e", "type": "quantitative", "scale": {"domain": [0, 1800], "nice": false, "zero": false},
  "axis": {"title": "Epoch ( 15s )", "format": "d", "values": [0,200,400,600,800,1000,1200,1400,1600,1800], "grid": false, "ticks": false, "domain": false, "labelPadding": 7, "labelFontSize": 10, "labelColor": "#333", "labelFont": "Liberation Sans", "titleFont": "Liberation Sans", "titleFontSize": 11, "titleFontWeight": "normal", "titleColor": "#222", "titlePadding": 5, "labelFlush": false}},
"y": {"field": "v", "type": "quantitative", "scale": {"domain": [-4, 3.96], "nice": false, "zero": false},
  "axis": {"title": "L5 cycle", "format": "d", "values": [-4,-3,-2,-1,0,1,2,3], "grid": false, "ticks": false, "domain": true, "domainColor": "#555", "domainWidth": 1.5, "labelPadding": 5, "labelFontSize": 10, "labelColor": "#333", "labelFont": "Liberation Sans", "titleFont": "Liberation Sans", "titleFontSize": 11, "titleFontWeight": "normal", "titleColor": "#222", "titlePadding": 10, "labelFlush": false}}
},
"layer": [
{"data": {"name": "gx"}, "mark": {"type": "rule", "color": "#000", "strokeWidth": 1, "strokeDash": [1.5, 2]}, "encoding": {"x": {"field": "e", "type": "quantitative"}, "y": null}},
{"data": {"name": "gy"}, "mark": {"type": "rule", "color": "#000", "strokeWidth": 1, "strokeDash": [2, 2]}, "encoding": {"y": {"field": "v", "type": "quantitative"}, "x": null}},
{"data": {"name": "gt"}, "mark": {"type": "rule", "color": "#555", "strokeWidth": 1.5}, "encoding": {"y": {"field": "v", "type": "quantitative"}, "x": null}},
{"data": {"name": "pts"}, "mark": {"type": "square", "size": 24, "filled": true, "fill": "#1fae5e", "stroke": "#111", "strokeWidth": 1.2, "opacity": 1}},
{"data": {"name": "up"}, "mark": {"type": "line", "color": "#111", "strokeWidth": 2.6}},
{"data": {"name": "lo"}, "mark": {"type": "line", "color": "#111", "strokeWidth": 2.6}},
{"data": {"name": "blue"}, "mark": {"type": "line", "color": "#3344aa", "strokeWidth": 1.2}},
{"data": {"name": "mean"}, "mark": {"type": "line", "color": "#ff2020", "strokeWidth": 2}}
]
}
